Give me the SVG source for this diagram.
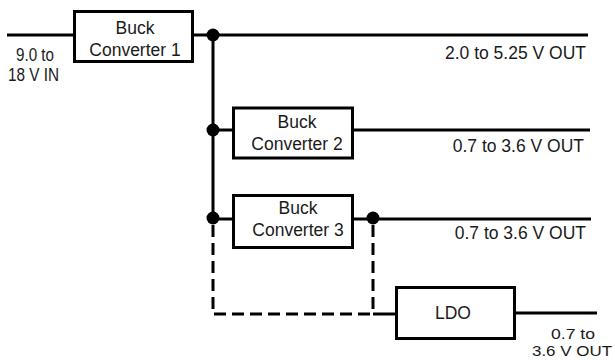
<svg xmlns="http://www.w3.org/2000/svg" width="615" height="360" viewBox="0 0 615 360">
<style>
.box{fill:#fff;stroke:#000;stroke-width:3}
.w{fill:none;stroke:#000;stroke-width:3}
.d{fill:none;stroke:#000;stroke-width:3;stroke-dasharray:12 6}
.dot{fill:#000}
text{font-family:"Liberation Sans",Arial,sans-serif;font-size:17.5px;fill:#1a1a1a}
.c{text-anchor:middle}
.r{text-anchor:end}
text.s{font-size:15px}
</style>
<g id="connectors">
<line class="w" x1="7" y1="35" x2="74" y2="35"/>
<line class="w" x1="193" y1="35" x2="588" y2="35"/>
<line class="w" x1="213" y1="35" x2="213" y2="219"/>
<line class="w" x1="213" y1="130" x2="232" y2="130"/>
<line class="w" x1="354" y1="130" x2="590" y2="130"/>
<line class="w" x1="213" y1="219" x2="232" y2="219"/>
<line class="w" x1="354" y1="219" x2="591" y2="219"/>
<polyline class="d" points="213,225 213,314 373,314"/>
<line class="d" x1="373" y1="225" x2="373" y2="314"/>
<line class="w" x1="373" y1="314" x2="396" y2="314"/>
<line class="w" x1="516" y1="313" x2="597" y2="313"/>
<circle class="dot" cx="213" cy="35" r="6.5"/>
<circle class="dot" cx="213" cy="130" r="6.5"/>
<circle class="dot" cx="213" cy="218" r="6.5"/>
<circle class="dot" cx="373" cy="218" r="6.5"/>
</g>
<g id="input-label">
<text x="16" y="61" textLength="38" lengthAdjust="spacingAndGlyphs">9.0 to</text>
<text x="8" y="81" textLength="51" lengthAdjust="spacingAndGlyphs">18 V IN</text>
</g>
<g id="buck1">
<rect class="box" x="74.5" y="11.5" width="118" height="50"/>
<text class="c" x="135" y="34">Buck</text>
<text class="c" x="135" y="56">Converter 1</text>
</g>
<g id="buck2">
<rect class="box" x="233.5" y="108" width="119" height="50"/>
<text class="c" x="297" y="128">Buck</text>
<text class="c" x="297" y="150">Converter 2</text>
</g>
<g id="buck3">
<rect class="box" x="233.5" y="195.5" width="119" height="52"/>
<text class="c" x="298" y="214">Buck</text>
<text class="c" x="298" y="236">Converter 3</text>
</g>
<g id="ldo">
<rect class="box" x="396.5" y="287.5" width="118" height="51"/>
<text class="c" x="453" y="319">LDO</text>
</g>
<g id="output-labels">
<text class="c s" x="573" y="339" textLength="44" lengthAdjust="spacingAndGlyphs">0.7 to</text>
<text class="c s" x="572" y="356" textLength="80" lengthAdjust="spacingAndGlyphs">3.6 V OUT</text>
<text class="r" x="586" y="59">2.0 to 5.25 V OUT</text>
<text class="r" x="584" y="152">0.7 to 3.6 V OUT</text>
<text class="r" x="586" y="239">0.7 to 3.6 V OUT</text>
</g>
</svg>
